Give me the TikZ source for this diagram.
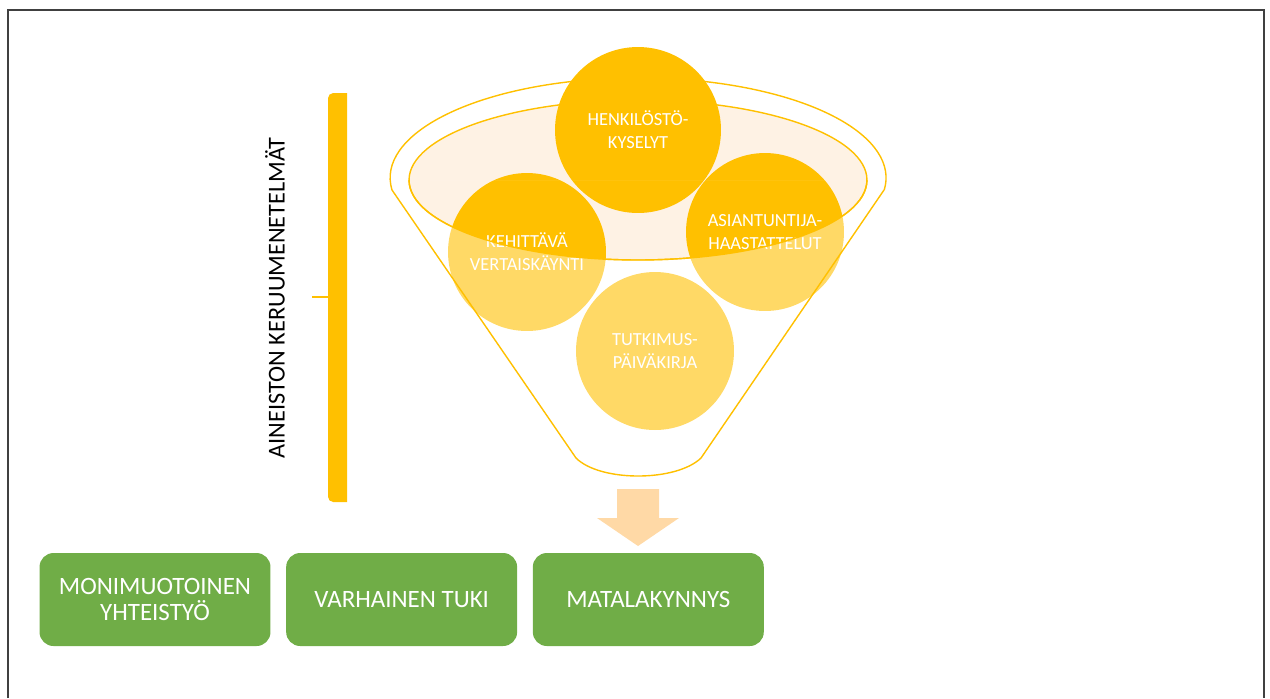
\documentclass[tikz,border=0pt]{standalone}
\usepackage{fontspec}
\setmainfont{Carlito}
\usetikzlibrary{positioning}
\definecolor{gold}{HTML}{FFC000}
\definecolor{rimpeach}{HTML}{FEF2E4}
\definecolor{flowpeach}{HTML}{FFD9A6}
\definecolor{boxgreen}{HTML}{70AD47}
\definecolor{framegray}{HTML}{404040}
\tikzset{
  bubble/.style={circle, fill=gold, text=white, align=center, inner sep=0pt, font=\fontsize{10.5}{13}\selectfont},
  greenbox/.style={rectangle, rounded corners=0.28cm, fill=boxgreen, text=white, align=center, inner sep=0pt, minimum width=4.62cm, minimum height=1.86cm, font=\fontsize{14.2}{15}\selectfont},
  rim/.style={draw=gold, line width=0.8pt}
}

\begin{document}
\begin{tikzpicture}[x=0.02cm, y=-0.02cm]
  \useasboundingbox (0,0) rectangle (1270,698);
  % Frame
  \draw[framegray, line width=1.2pt] (8,698) -- (8,10) -- (1264,10) -- (1264,698);

  % Bracket
  \fill[gold] (347,93) [rounded corners=3pt] -- (328,93) -- (328,502) [sharp corners] -- (347,502) -- cycle;
  \draw[gold, line width=1.5pt] (312,297) -- (328,297);
  \node (kerays) [rotate=90, font=\fontsize{13.8}{15}\selectfont] at (275,298) {AINEISTON KERUUMENETELMÄT};

  % Funnel (back)
  \fill[rimpeach] (638,180) ellipse [x radius=4.58cm, y radius=1.6cm];
  \draw[rim] (638,180) ellipse [x radius=4.58cm, y radius=1.6cm];
  \draw[rim] (392,190) arc [start angle=187, end angle=-7, x radius=4.96cm, y radius=2cm];

  % Nodes
  \node (henkilo) [bubble, minimum size=3.32cm] at (638,130) {HENKILÖSTÖ-\\KYSELYT};
  \node (kehitt) [bubble, minimum size=3.16cm] at (527,252) {KEHITTÄVÄ\\VERTAISKÄYNTI};
  \node (asiant) [bubble, minimum size=3.16cm] at (765,232) {ASIANTUNTIJA-\\HAASTATTELUT};
  \node (tutkim) [bubble, minimum size=3.16cm] at (655,351) {TUTKIMUS-\\PÄIVÄKIRJA};

  % Funnel (front)
  \begin{scope}
    \clip (430,180) rectangle (860,440);
    \fill[white, fill opacity=0.4, even odd rule] (0,180) rectangle (1270,698) (638,180) ellipse [x radius=4.58cm, y radius=1.6cm];
  \end{scope}
  \draw[rim] (409,180) arc [start angle=180, end angle=360, x radius=4.58cm, y radius=1.6cm];
  \draw[rim] (392,190) -- (576,458) .. controls (600,482) and (676,482) .. (701,458) -- (884,190);

  % Arrow
  \fill[flowpeach] (617,489) -- (659,489) -- (659,518) -- (679,518) -- (638,546) -- (597,518) -- (617,518) -- cycle;

  % Boxes
  \node (moni) [greenbox] at (155,599.5) {MONIMUOTOINEN\\YHTEISTYÖ};
  \node (varh) [greenbox, right=0.3cm of moni] {VARHAINEN TUKI};
  \node (mata) [greenbox, right=0.3cm of varh] {MATALAKYNNYS};
\end{tikzpicture}
\end{document}
